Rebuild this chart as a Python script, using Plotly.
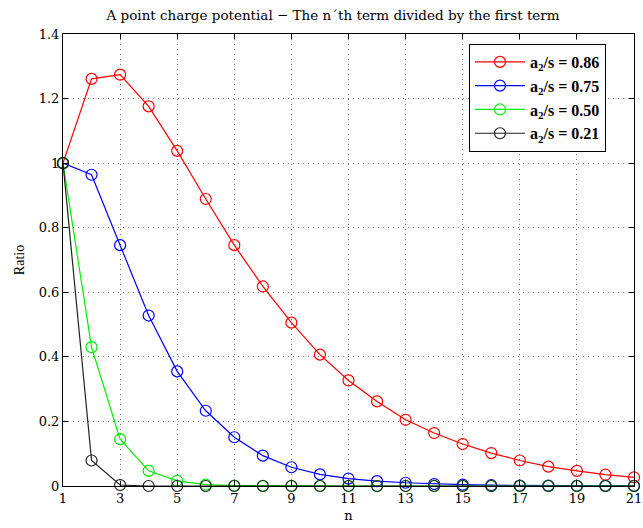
import plotly.graph_objects as go

n = list(range(1, 22))
labels = ["a<sub>2</sub>/s = 0.86", "a<sub>2</sub>/s = 0.75", "a<sub>2</sub>/s = 0.50", "a<sub>2</sub>/s = 0.21"]
colors = ["#ff0000", "#0000ff", "#00ee00", "#222222"]

ratio_086 = [1.0, 1.261, 1.274, 1.176, 1.038, 0.889, 0.746, 0.618, 0.506, 0.407, 0.327,
             0.262, 0.205, 0.164, 0.130, 0.102, 0.079, 0.060, 0.047, 0.035, 0.027]
ratio_075 = [1.0, 0.964, 0.746, 0.528, 0.355, 0.233, 0.151, 0.094, 0.058, 0.036, 0.023,
             0.015, 0.010, 0.006, 0.004, 0.0025, 0.0016, 0.001, 0.0007, 0.0004, 0.0003]
ratio_050 = [1.0, 0.430, 0.145, 0.047, 0.016, 0.004, 0.0015, 0.0005, 0.0002, 0.0001, 0.0,
             0.0, 0.0, 0.0, 0.0, 0.0, 0.0, 0.0, 0.0, 0.0, 0.0]
ratio_021 = [1.0, 0.079, 0.003, 0.0, 0.0, 0.0, 0.0, 0.0, 0.0, 0.0, 0.0,
             0.0, 0.0, 0.0, 0.0, 0.0, 0.0, 0.0, 0.0, 0.0, 0.0]
series = [ratio_086, ratio_075, ratio_050, ratio_021]

x_ticks = list(range(1, 22, 2))
y_ticks = [0, 0.2, 0.4, 0.6, 0.8, 1.0, 1.2, 1.4]
y_ticktext = ["0", "0.2", "0.4", "0.6", "0.8", "1", "1.2", "1.4"]

fig = go.Figure()
for lab, col, ys in zip(labels, colors, series):
    fig.add_trace(go.Scatter(
        x=n, y=ys, mode="lines+markers", name="<b>" + lab + "</b>",
        line=dict(color=col, width=1.2),
        marker=dict(symbol="circle-open", size=11, color=col, line=dict(width=1.2, color=col)),
        cliponaxis=False,
    ))

axis_common = dict(
    showline=True, linecolor="black", linewidth=1, mirror="ticks",
    ticks="inside", ticklen=5, tickcolor="black",
    showgrid=True, gridcolor="#777777", griddash="1px,4px", gridwidth=1,
    zeroline=False, ticklabeloverflow="allow", automargin=False,
    tickfont=dict(family="DejaVu Serif", size=13, color="black"),
)

fig.update_layout(
    width=643, height=528,
    margin=dict(l=63, r=9, t=34, b=42),
    paper_bgcolor="white", plot_bgcolor="white",
    font=dict(family="DejaVu Serif", color="black"),
    title=dict(text="A point charge potential \u2212 The n\u00b4th term divided by the first term",
               x=0.518, xanchor="center", y=0.972, yanchor="middle",
               font=dict(family="DejaVu Serif", size=13.5, color="black")),
    xaxis=dict(range=[1, 21], tickvals=x_ticks,
               title=dict(text="n", standoff=6, font=dict(family="DejaVu Serif", size=13)), **axis_common),
    yaxis=dict(range=[0, 1.4], tickvals=y_ticks, ticktext=y_ticktext,
               title=dict(text="Ratio", standoff=10, font=dict(family="Liberation Serif", size=14)), **axis_common),
    legend=dict(x=0.711, y=0.978, xanchor="left", yanchor="top",
                bgcolor="white", bordercolor="black", borderwidth=1,
                font=dict(family="Liberation Serif", size=16, color="black"),
                itemwidth=50, entrywidth=176, tracegroupgap=0),
    showlegend=True,
)

fig.write_html("out.html")
